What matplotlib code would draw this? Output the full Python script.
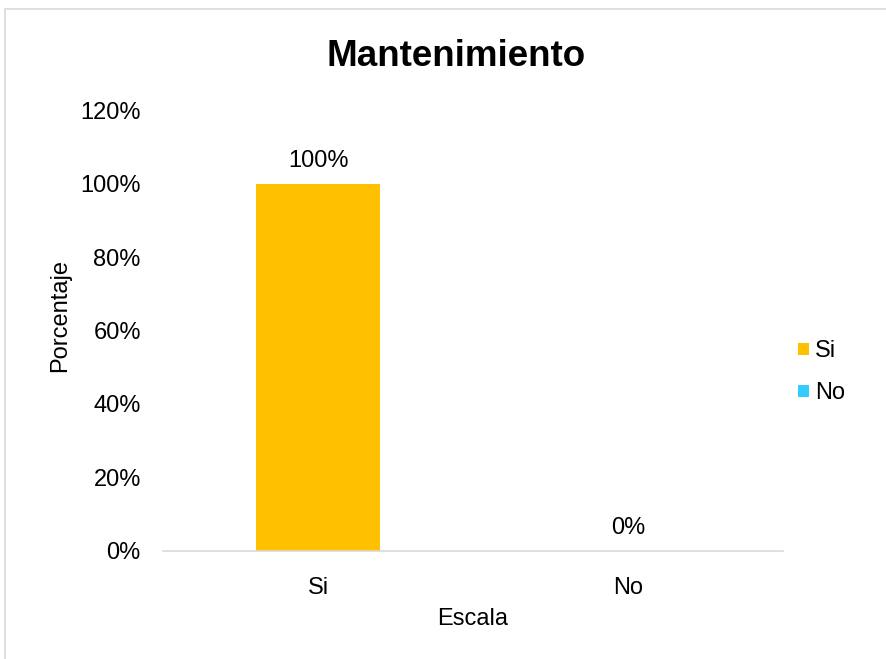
import numpy as np
import matplotlib.pyplot as plt
from matplotlib.patches import Rectangle

plt.rcParams['font.family'] = ['Liberation Sans', 'DejaVu Sans']

# survey answers, percentage of respondents
categorias = ['Si', 'No']
porcentajes = [100, 0]
colores = ['#FFC000', '#33CCFF']

fig = plt.figure(figsize=(8.86, 6.59), dpi=100)
ax = fig.add_axes([0.184, 0.164, 0.700, 0.669])

x = np.arange(len(categorias))
barras = ax.bar(x, porcentajes, width=0.4, color=colores, label=categorias, zorder=2)

for b, v in zip(barras, porcentajes):
    ax.text(b.get_x() + b.get_width() / 2, v + 3.2, f'{v}%',
            ha='center', va='bottom', fontsize=17)

ax.set_xlim(-0.5, 1.5)
ax.set_ylim(0, 120)
ax.set_yticks(np.arange(0, 121, 20))
ax.set_yticklabels([f'{t}%' for t in range(0, 121, 20)], fontsize=17)
ax.set_xticks(x)
ax.set_xticklabels(categorias, fontsize=17)
ax.tick_params(axis='y', length=0, pad=16)
ax.tick_params(axis='x', length=0, pad=19)

for s in ['top', 'right', 'left']:
    ax.spines[s].set_visible(False)
ax.spines['bottom'].set_color('#d9d9d9')
ax.spines['bottom'].set_linewidth(1.2)

ax.set_xlabel('Escala', fontsize=17)
ax.xaxis.set_label_coords(0.5, -0.155)
ax.xaxis.label.set_va('center')
ax.set_ylabel('Porcentaje', fontsize=17)
ax.yaxis.set_label_coords(-0.166, 0.535)
ax.yaxis.label.set_va('center')
fig.text(0.515, 0.915, 'Mantenimiento', ha='center', va='center',
         fontsize=26.5, fontweight='bold')

ax.legend(loc='center left', bbox_to_anchor=(0.99, 0.405), frameon=False,
          fontsize=17, handlelength=0.45, handleheight=0.45, handletextpad=0.25,
          labelspacing=0.85)

# thin frame around the chart area
fig.patches.append(Rectangle((5 / 886, -0.01), 1.02, 1 - 9 / 659 + 0.01,
                             transform=fig.transFigure, fill=False,
                             edgecolor='#d9d9d9', linewidth=1.2))

fig.savefig('out.png', dpi=100)
